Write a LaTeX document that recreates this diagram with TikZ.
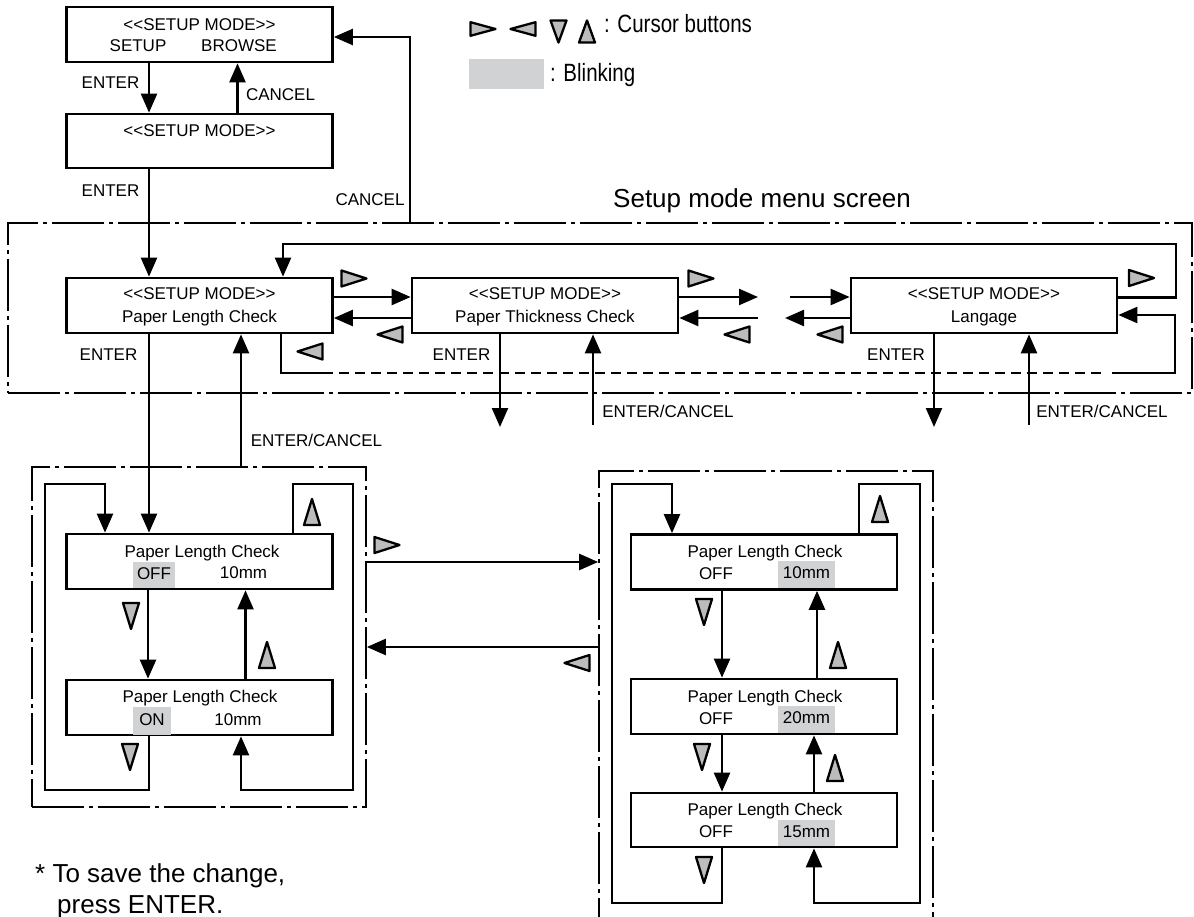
\documentclass[tikz,border=0pt]{standalone}
\usepackage{fontspec}
\setmainfont{Liberation Sans}
\newfontfamily\narrowsans{Liberation Sans}[FakeStretch=0.82]
\usetikzlibrary{arrows.meta}
\definecolor{btngray}{HTML}{BBBCBE}
\definecolor{hlgray}{HTML}{D1D2D4}
\newcommand\dlt{<\kern0pt<}
\newcommand\dgt{>\kern0pt>}
\newcommand\btnRight[3][1]{\draw[btn,shift={(#2,#3)}] (-12.5,{-8*#1}) -- (12.5,0) -- (-12.5,{8*#1}) -- cycle;}
\newcommand\btnLeft[3][1]{\draw[btn,shift={(#2,#3)}] (12.5,{-8*#1}) -- (-12.5,0) -- (12.5,{8*#1}) -- cycle;}
\newcommand\btnUp[3][1]{\draw[btn,shift={(#2,#3)}] (0,{-13*#1}) -- (8,{13*#1}) -- (-8,{13*#1}) -- cycle;}
\newcommand\btnDown[3][1]{\draw[btn,shift={(#2,#3)}] (0,{13*#1}) -- (8,{-13*#1}) -- (-8,{-13*#1}) -- cycle;}
\begin{document}
\begin{tikzpicture}[x=1pt,y=-1pt,
  font=\fontsize{17}{20}\selectfont,
  boxst/.style={draw,line width=2.7pt,minimum width=266pt,minimum height=55pt,inner sep=0pt},
  framest/.style={draw,line width=1.7pt,dash pattern=on 52pt off 5pt on 4pt off 5pt,inner sep=0pt},
  conn/.style={line width=2.4pt,-{Triangle[length=19pt,width=16pt]}},
  lnst/.style={line width=2.4pt},
  dotline/.style={line width=2.4pt,dash pattern=on 10pt off 6pt},
  txt/.style={inner sep=0pt,anchor=base},
  hlst/.style={fill=hlgray,inner sep=0pt,text height=13pt,text depth=5pt},
  btn/.style={draw,fill=btngray,line width=2.3pt,line join=round},
  bigtxt/.style={inner sep=0pt,anchor=base west,font=\fontsize{26}{30}\selectfont},
  legtxt/.style={inner sep=0pt,anchor=base west,font=\narrowsans\fontsize{25}{30}\selectfont},
]
\useasboundingbox (0,0) rectangle (1194,917);

% ---------- legend ----------
\btnRight[0.85]{483}{29}
\btnLeft[0.85]{523}{29}
\btnDown[0.85]{558.5}{31.5}
\btnUp[0.85]{587}{31.5}
\node[legtxt] (legcur) at (604,33) {: Cursor buttons};
\node[fill=hlgray,minimum width=75pt,minimum height=30pt,inner sep=0pt] (blink) at (506.5,74) {};
\node[legtxt] (legblink) at (550,82) {: Blinking};

% ---------- top boxes ----------
\node[boxst] (A) at (199.5,34.5) {};
\node[txt] (A1) at (199.5,31) {\dlt SETUP MODE\dgt};
\node[txt] (A2) at (138,52) {SETUP};
\node[txt] (A3) at (239,52) {BROWSE};
\node[boxst,minimum height=54pt] (B) at (199.5,141) {};
\node[txt] (B1) at (199.5,137) {\dlt SETUP MODE\dgt};

\draw[conn] ([xshift=-50.5pt]A.south) -- ([xshift=-50.5pt]B.north);
\draw[conn] ([xshift=38pt]B.north) -- ([xshift=38pt]A.south);
\node[txt] (lbE1) at (110.5,89) {ENTER};
\node[txt] (lbC1) at (280.5,101) {CANCEL};
\node[txt] (lbE2) at (110.5,197) {ENTER};
\node[txt] (lbC2) at (370,206) {CANCEL};

% ---------- setup mode menu frame ----------
\node[framest,minimum width=1184pt,minimum height=170pt] (menu) at (600,308) {};
\node[bigtxt] (menutitle) at (613,208) {Setup mode menu screen};

\node[boxst] (PL) at (199.5,305.5) {};
\node[txt] (PL1) at (199.5,300) {\dlt SETUP MODE\dgt};
\node[txt] (PL2) at (199.5,323) {Paper Length Check};
\node[boxst] (PT) at (545,305.5) {};
\node[txt] (PT1) at (545,300) {\dlt SETUP MODE\dgt};
\node[txt] (PT2) at (545,323) {Paper Thickness Check};
\node[boxst] (LG) at (984,305.5) {};
\node[txt] (LG1) at (984,300) {\dlt SETUP MODE\dgt};
\node[txt] (LG2) at (984,323) {Langage};

\draw[conn] ([xshift=-50.5pt]B.south) -- ([xshift=-50.5pt]PL.north);
\draw[conn] ([xshift=-190pt]menu.north) |- ([yshift=-2.5pt]A.east);

\coordinate (gapR1) at (758,297);
\coordinate (gapR2) at (790,297);
\coordinate (gapL1) at (758,318);
\coordinate (gapL2) at (785,318);
\draw[conn] ([yshift=8.5pt]PL.east) -- ([yshift=8.5pt]PT.west);
\draw[conn] ([yshift=-12.5pt]PT.west) -- ([yshift=-12.5pt]PL.east);
\draw[conn] ([yshift=8.5pt]PT.east) -- (gapR1);
\draw[conn] (gapL1) -- ([yshift=-12.5pt]PT.east);
\draw[conn] (gapR2) -- ([yshift=8.5pt]LG.west);
\draw[conn] ([yshift=-12.5pt]LG.west) -- (gapL2);

\coordinate (topR) at (1176,244);
\draw[conn] ([yshift=8pt]LG.east) -| (topR) -| ([xshift=83.5pt]PL.north);

\coordinate (dashS) at (323,373);
\coordinate (dashE) at (1104,373);
\coordinate (solS) at (1112,373);
\coordinate (botR) at (1175,315);
\draw[lnst] ([xshift=81.5pt]PL.south) |- (dashS);
\draw[dotline] (dashS) -- (dashE);
\draw[conn] (solS) -| (botR) -- ([yshift=-9.5pt]LG.east);

\node[txt] (lbE3) at (108.5,360) {ENTER};
\node[txt] (lbE4) at (461.5,360) {ENTER};
\node[txt] (lbE5) at (896,360) {ENTER};

\coordinate (ptE) at (500,427);
\coordinate (lgE) at (934,427);
\coordinate (ptC) at (593,425);
\coordinate (lgC) at (1029,425);
\draw[conn] ([xshift=-45pt]PT.south) -- (ptE);
\draw[conn] ([xshift=-50pt]LG.south) -- (lgE);
\draw[conn] (ptC) -- ([xshift=48pt]PT.south);
\draw[conn] (lgC) -- ([xshift=45pt]LG.south);
\node[txt] (lbEC2) at (668,417) {ENTER/CANCEL};
\node[txt] (lbEC3) at (1102,417) {ENTER/CANCEL};

\btnRight{354}{278.5}
\btnRight{701}{278.5}
\btnRight{1141.5}{278}
\btnLeft{390}{334.5}
\btnLeft{737}{334.5}
\btnLeft{830}{334.5}
\btnLeft{310}{351.5}

% ---------- lower left group ----------
\node[framest,minimum width=334pt,minimum height=340pt] (lf) at (199,637) {};
\node[boxst] (L1) at (199.5,561.5) {};
\node[txt] (L1a) at (202,557) {Paper Length Check};
\node[hlst,minimum width=42pt,minimum height=26pt] (L1b) at (154,575) {OFF};
\node[txt] (L1c) at (243.5,578) {10mm};
\node[boxst] (L2) at (199.5,707.5) {};
\node[txt] (L2a) at (200,702) {Paper Length Check};
\node[hlst,minimum width=38pt,minimum height=28pt] (L2b) at (152,721) {ON};
\node[txt] (L2c) at (238,725) {10mm};

\draw[conn] ([xshift=-50.5pt]PL.south) -- ([xshift=-50.5pt]L1.north);
\draw[conn] ([xshift=42pt]lf.north) -- ([xshift=41.5pt]PL.south);
\node[txt] (lbEC1) at (316.5,446.5) {ENTER/CANCEL};

\draw[conn] ([xshift=-51.5pt]L1.south) -- ([xshift=-51.5pt]L2.north);
\draw[conn] ([xshift=46pt]L2.north) -- ([xshift=46pt]L1.south);
\coordinate (ll1) at (45,790);
\coordinate (ll2) at (45,484);
\draw[conn] ([xshift=-50.5pt]L2.south) |- (ll1) -- (ll2) -| ([xshift=-94.5pt]L1.north);
\coordinate (lr1) at (353,484);
\coordinate (lr2) at (353,790);
\draw[conn] ([xshift=93.5pt]L1.north) |- (lr1) -- (lr2) -| ([xshift=41.5pt]L2.south);

\btnUp{312}{512}
\btnDown{131}{616}
\btnUp{267}{655}
\btnDown{130}{757}

% ---------- lower right group ----------
\node[framest,minimum width=334pt,minimum height=489pt] (rf) at (766,715.5) {};
\node[boxst] (R1) at (764,562) {};
\node[txt] (R1a) at (765,557) {Paper Length Check};
\node[txt] (R1b) at (716,579) {OFF};
\node[hlst,minimum width=57pt,minimum height=27pt] (R1c) at (806.5,574.5) {10mm};
\node[boxst] (R2) at (764,706.5) {};
\node[txt] (R2a) at (765,702) {Paper Length Check};
\node[txt] (R2b) at (716,724) {OFF};
\node[hlst,minimum width=57pt,minimum height=27pt] (R2c) at (806.5,719.5) {20mm};
\node[boxst,minimum height=54pt] (R3) at (764,820) {};
\node[txt] (R3a) at (765,815) {Paper Length Check};
\node[txt] (R3b) at (716,837) {OFF};
\node[hlst,minimum width=57pt,minimum height=26pt] (R3c) at (806.5,833) {15mm};

\draw[conn] ([xshift=-42pt]R1.south) -- ([xshift=-42pt]R2.north);
\draw[conn] ([xshift=53pt]R2.north) -- ([xshift=53pt]R1.south);
\draw[conn] ([xshift=-42pt]R2.south) -- ([xshift=-42pt]R3.north);
\draw[conn] ([xshift=50pt]R3.north) -- ([xshift=50pt]R2.south);
\coordinate (rl1) at (612,903);
\coordinate (rl2) at (612,484);
\draw[conn] ([xshift=-42pt]R3.south) |- (rl1) -- (rl2) -| ([xshift=-92pt]R1.north);
\coordinate (rr1) at (920,484);
\coordinate (rr2) at (920,903);
\draw[conn] ([xshift=95pt]R1.north) |- (rr1) -- (rr2) -| ([xshift=50pt]R3.south);

\btnUp{880}{509}
\btnDown{704}{612}
\btnUp{838}{655}
\btnDown{702}{757}
\btnUp{835}{768}
\btnDown{704}{870}

% ---------- between groups ----------
\draw[conn] ([yshift=75pt]lf.east) -- ([yshift=153.5pt]rf.west);
\draw[conn] ([yshift=68.5pt]rf.west) -- ([yshift=-10pt]lf.east);
\btnRight{387}{545}
\btnLeft{577}{663}

% ---------- note ----------
\node[bigtxt] (note1) at (35,882) {* To save the change,};
\node[bigtxt] (note2) at (57,913) {press ENTER.};
\end{tikzpicture}
\end{document}
